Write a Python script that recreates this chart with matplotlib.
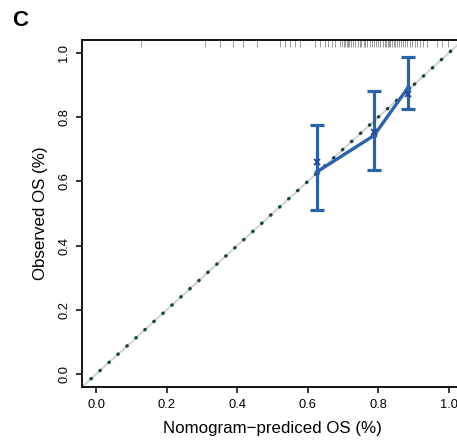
import numpy as np
import matplotlib.pyplot as plt
import matplotlib.transforms as mtransforms

plt.rcParams['font.family'] = ['Liberation Sans', 'DejaVu Sans']

# calibration groups (nomogram-predicted vs observed)
pred = [0.625, 0.788, 0.883]
observed = [0.629, 0.743, 0.890]
ci_low = [0.511, 0.636, 0.824]
ci_high = [0.777, 0.882, 0.987]
corrected = [0.659, 0.755, 0.872]

# distribution of predicted values (rug at top)
rug_pred = [0.127, 0.309, 0.351, 0.389, 0.417, 0.455, 0.521, 0.535, 0.550,
            0.564, 0.578, 0.620, 0.635, 0.649, 0.658, 0.668, 0.677, 0.691,
            0.697, 0.702, 0.706, 0.710, 0.714, 0.718, 0.723, 0.729, 0.735,
            0.741, 0.747, 0.752, 0.758, 0.763, 0.769, 0.775, 0.781, 0.787,
            0.793, 0.799, 0.805, 0.813, 0.818, 0.822, 0.826, 0.830, 0.834,
            0.838, 0.843, 0.848, 0.853, 0.858, 0.864, 0.870, 0.876, 0.882,
            0.889, 0.896, 0.903, 0.911, 0.919, 0.928, 0.937, 0.965, 0.980,
            0.998]

ticks = [0.0, 0.2, 0.4, 0.6, 0.8, 1.0]
blue = '#2b62a8'

fig = plt.figure(figsize=(4.57, 4.45), dpi=100)
ax = fig.add_axes([82/457, 58/445, 381/457, 347/445])
ax.set_xlim(-0.04, 1.04)
ax.set_ylim(-0.04, 1.04)

# ideal line
lim = [-0.04, 1.04]
ax.plot(lim, lim, color='#d4d4d4', lw=1.5, zorder=1)
ax.plot(lim, lim, color='#1a4444', lw=2.5, linestyle=(0, (0.1, 3.4)),
        dash_capstyle='round', zorder=2)

# observed with error bars
ax.errorbar(pred, observed,
            yerr=[np.array(observed) - np.array(ci_low), np.array(ci_high) - np.array(observed)],
            color=blue, lw=2.4, elinewidth=2.3, capsize=5, capthick=2.3,
            marker='o', ms=3, zorder=3)
ax.plot(pred, corrected, linestyle='none', marker='x', ms=4, mew=1.3,
        color='#2446a0', zorder=4)

# rug
trans = mtransforms.blended_transform_factory(ax.transData, ax.transAxes)
ax.vlines(rug_pred, 0.979, 1.0, transform=trans, color='#8a8a8a', lw=0.6, zorder=1)

for s in ax.spines.values():
    s.set_linewidth(1.3)

ax.set_xticks(ticks)
ax.set_yticks(ticks)
ax.set_xticklabels(['%.1f' % t for t in ticks])
ax.set_yticklabels(['%.1f' % t for t in ticks], rotation=90, va='center')
ax.tick_params(direction='out', length=4.5, width=1.1, labelsize=9.3, pad=4, colors='black')

ax.set_xlabel('Nomogram\u2212prediced OS (%)', fontsize=12.2, labelpad=7)
ax.set_ylabel('Observed OS (%)', fontsize=12.2, labelpad=7)

fig.text(20/457, 1 - 20/445, 'C', fontsize=16, fontweight='bold', ha='center', va='center')

fig.savefig('out.png', dpi=100)
